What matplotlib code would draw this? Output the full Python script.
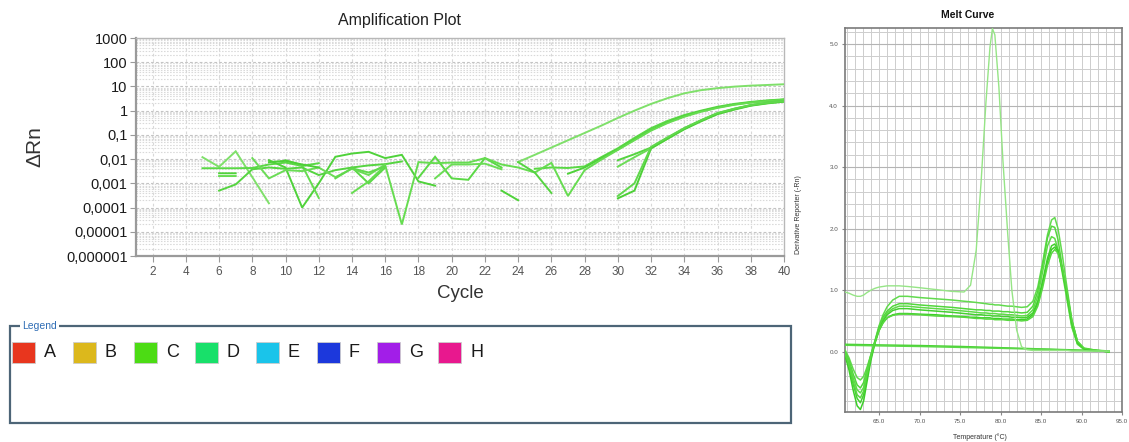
import numpy as np
import matplotlib
matplotlib.use("Agg")
import matplotlib.pyplot as plt
from matplotlib.patches import Rectangle
from matplotlib.ticker import FixedLocator, NullFormatter, NullLocator

plt.rcParams['font.family'] = ['Liberation Sans', 'DejaVu Sans']
plt.rcParams['lines.scale_dashes'] = False

W, H = 1129, 442
n = np.nan

# ---------------- amplification data (delta Rn per cycle, cycles 5..40) ----------------
cycles = list(range(5, 41))

well_1 = [.012, .0048, .021, .0018, .00015, n, n, n, n, n, n, n, n, n, n, n, n, n, n,
          .0076, .015, .03, .06, .12, .24, .5, 1.0, 1.9, 3.3, 5.2, 7.0, 8.5, 9.8, 10.8, 11.5, 12.3]
well_2 = [.0042, .0042, .0042, .0043, .006, .0072, .0052, .0068, n, .0045, .001, .0045, n,
          .0017, .0125, .0016, .0014, .011, .0045, n, .004, .0045, .0043, .005,
          .012, .028, .075, .19, .38, .66, 1.0, 1.45, 1.9, 2.3, 2.65, 2.95]
well_3 = [n, .0026, .0026, n, .009, .0045, .0001, .001, .0125, .017, .02, .011, .015, .0012, .0008,
          n, n, n, .0005, .0002, n, n,
          .0025, .0045, .011, .025, .065, .16, .33, .6, .95, 1.35, 1.8, 2.2, 2.55, 2.85]
well_4 = [n, .002, .002, n, n, .009, .0055, .00025, n, .0004, .0012, .0055, .00002, .0075, .0068,
          .0072, .0072, .011, .006, .0045, .0028, .007, .0003, .0035,
          .0095, .024, .06, .15, .31, .56, .9, 1.3, 1.75, 2.15, 2.5, 2.8]
well_5 = [n, .0005, .0009, .0038, .0045, .004, .0045, .0022, .0035, .0045, .0055, .0062, .008,
          n, n, n, n, n, n, .0075, .0028, .0004, n, n, n,
          .009, .016, .03, .075, .19, .4, .78, 1.2, 1.7, 2.15, 2.55]
well_6 = [n, n, n, .011, .0016, .0035, .0032, .0045, .0018, .004, .0022, .006, n, n,
          .0016, .006, .006, .0065, .0038, n, n, n, n, n, n,
          .0049, .012, .028, .07, .18, .38, .75, 1.15, 1.65, 2.05, 2.4]
well_7 = [n, n, n, n, .0075, .0085, .006, .0045, n, n, n, n, n, n, n, n, n, n, n, n, n, n, n, n, n,
          .00024, .0005, .028, .07, .17, .36, .72, 1.1, 1.6, 2.0, 2.35]
well_8 = [n, n, n, n, n, n, n, n, .0016, .0042, .0028, .005, n, n, n, n, n, n, n, n, n, n, n, n, n,
          .0003, .001, .032, .08, .19, .4, .8, 1.2, 1.7, 2.1, 2.5]

amp_wells = [well_1, well_2, well_3, well_4, well_5, well_6, well_7, well_8]
amp_colors = ['#7fe06a', '#5ad845', '#4fd23a', '#66dc50', '#55d440', '#6bdc56', '#4ccf36', '#60d84c']

cycle_ticks = list(range(2, 41, 2))
drn_ticks = [1e-6, 1e-5, 1e-4, 1e-3, 1e-2, 1e-1, 1, 10, 100, 1000]
drn_labels = ['0,000001', '0,00001', '0,0001', '0,001', '0,01', '0,1', '1', '10', '100', '1000']

# ---------------- legend ----------------
legend_labels = ['A', 'B', 'C', 'D', 'E', 'F', 'G', 'H']
legend_colors = ['#e8361e', '#dcb81c', '#4cdc14', '#18e06a', '#1ac4ea', '#1c38dc', '#a21ee8', '#e8188e']

# ---------------- melt curve data ----------------
melt_temps = [60.8, 61.3, 61.8, 62.3, 62.7, 63.1, 63.5, 64.0, 64.5, 65.0,
              65.5, 66.0, 66.7, 67.5, 68.5, 70.0, 72.0, 74.0, 75.5, 76.3,
              77.0, 77.6, 78.2, 78.7, 79.0, 79.3, 79.8, 80.3, 80.9, 81.4,
              82.0, 82.6, 83.3, 84.0, 84.6, 85.2, 85.8, 86.3, 86.7, 87.1,
              87.6, 88.2, 88.8, 89.5, 90.3, 91.5, 93.4]

melt_1 = [0.03, -0.1, -0.28, -0.42, -0.46, -0.4, -0.26, -0.05, 0.18, 0.42,
          0.6, 0.73, 0.84, 0.9, 0.9, 0.88, 0.86, 0.84, 0.82, 0.81,
          0.8, 0.79, 0.78, 0.77, 0.77, 0.76, 0.76, 0.75, 0.74, 0.74,
          0.73, 0.72, 0.73, 0.82, 1.05, 1.45, 1.9, 2.14, 2.18, 2.0,
          1.6, 1.05, 0.52, 0.16, 0.05, 0.03, 0.01]
melt_2 = [0.0, -0.14, -0.36, -0.54, -0.59, -0.5, -0.3, -0.05, 0.17, 0.4,
          0.56, 0.66, 0.74, 0.78, 0.78, 0.76, 0.74, 0.72, 0.7, 0.69,
          0.68, 0.68, 0.67, 0.67, 0.66, 0.66, 0.66, 0.65, 0.65, 0.64,
          0.64, 0.63, 0.64, 0.74, 0.98, 1.4, 1.85, 2.04, 2.02, 1.82,
          1.4, 0.9, 0.42, 0.13, 0.04, 0.02, 0.0]
melt_3 = [-0.02, -0.18, -0.42, -0.62, -0.67, -0.58, -0.34, -0.06, 0.16, 0.38,
          0.53, 0.63, 0.7, 0.74, 0.74, 0.72, 0.7, 0.68, 0.66, 0.65,
          0.64, 0.63, 0.63, 0.62, 0.62, 0.62, 0.61, 0.61, 0.6, 0.6,
          0.59, 0.58, 0.59, 0.68, 0.9, 1.3, 1.72, 1.87, 1.84, 1.66,
          1.3, 0.85, 0.4, 0.12, 0.04, 0.02, 0.0]
melt_4 = [-0.04, -0.24, -0.52, -0.76, -0.83, -0.7, -0.42, -0.1, 0.15, 0.36,
          0.5, 0.6, 0.67, 0.7, 0.7, 0.68, 0.66, 0.64, 0.62, 0.61,
          0.6, 0.6, 0.59, 0.59, 0.58, 0.58, 0.58, 0.57, 0.57, 0.56,
          0.56, 0.55, 0.56, 0.63, 0.82, 1.15, 1.52, 1.72, 1.75, 1.65,
          1.35, 0.92, 0.46, 0.14, 0.05, 0.02, 0.0]
melt_5 = [-0.06, -0.3, -0.62, -0.88, -0.94, -0.8, -0.5, -0.14, 0.14, 0.34,
          0.47, 0.55, 0.6, 0.62, 0.62, 0.61, 0.6, 0.58, 0.57, 0.56,
          0.56, 0.55, 0.55, 0.55, 0.54, 0.54, 0.54, 0.53, 0.53, 0.53,
          0.52, 0.52, 0.53, 0.6, 0.78, 1.1, 1.46, 1.66, 1.7, 1.62,
          1.36, 0.95, 0.5, 0.16, 0.05, 0.02, 0.0]
melt_6 = [-0.03, -0.22, -0.48, -0.7, -0.75, -0.64, -0.38, -0.08, 0.15, 0.35,
          0.47, 0.55, 0.59, 0.61, 0.61, 0.6, 0.58, 0.57, 0.56, 0.55,
          0.54, 0.54, 0.53, 0.53, 0.53, 0.52, 0.52, 0.52, 0.51, 0.51,
          0.51, 0.5, 0.51, 0.57, 0.74, 1.04, 1.4, 1.6, 1.66, 1.6,
          1.38, 0.98, 0.52, 0.17, 0.06, 0.03, 0.0]
melt_early = [0.97, 0.95, 0.92, 0.9, 0.9, 0.92, 0.96, 1.0, 1.03, 1.05,
              1.06, 1.07, 1.07, 1.07, 1.06, 1.04, 1.01, 0.98, 0.97, 1.08,
              1.65, 2.75, 4.05, 4.95, 5.25, 5.15, 4.3, 3.1, 1.9, 1.0,
              0.35, 0.08, 0.03, 0.02, 0.02, 0.02, 0.02, 0.02, 0.02, 0.02,
              0.02, 0.02, 0.01, 0.01, 0.01, 0.01, 0.01]

flat_temps = [60.8, 65.0, 70.0, 75.0, 80.0, 85.0, 90.0, 93.4]
melt_flat_1 = [0.12, 0.11, 0.1, 0.085, 0.065, 0.045, 0.025, 0.01]
melt_flat_2 = [0.105, 0.095, 0.085, 0.07, 0.055, 0.04, 0.02, 0.005]

melt_main = [melt_1, melt_2, melt_3, melt_4, melt_5, melt_6]
melt_main_colors = ['#62da4e', '#52d63c', '#5ddc46', '#44d030', '#3ccf28', '#58d840']

melt_xticks = [65, 70, 75, 80, 85, 90, 95]
melt_yticks = [0, 1, 2, 3, 4, 5]


def fig_rect(left, top, right, bottom):
    return [left / W, 1 - bottom / H, (right - left) / W, (bottom - top) / H]


fig = plt.figure(figsize=(W / 100, H / 100), dpi=100)
fig.patch.set_facecolor('white')

# ======================= amplification plot =======================
ax = fig.add_axes(fig_rect(136, 38, 784, 256))
ax.set_yscale('log')
ax.set_xlim(1, 40)
ax.set_ylim(1e-6, 1e3)

# grid
ax.yaxis.set_major_locator(FixedLocator(drn_ticks))
minor_y = [m * 10.0 ** e for e in range(-6, 3) for m in range(2, 10)]
ax.yaxis.set_minor_locator(FixedLocator(minor_y))
ax.yaxis.set_minor_formatter(NullFormatter())
ax.set_yticklabels(drn_labels)
ax.set_xticks(cycle_ticks)
ax.xaxis.set_minor_locator(NullLocator())

for v in minor_y:
    ax.axhline(v, color='#d9d9d9', lw=0.8, ls=(0, (1.1, 1.1)), zorder=0)
for v in drn_ticks[1:-1]:
    ax.axhline(v, color='#c4c4c4', lw=0.8, ls=(0, (2.0, 1.5)), zorder=0)
for c in cycle_ticks[:-1]:
    ax.axvline(c, color='#d8d8d8', lw=0.8, ls=(0, (2.0, 2.0)), zorder=0)

for vals, col in zip(amp_wells, amp_colors):
    ax.plot(cycles, vals, color=col, lw=1.4, solid_joinstyle='miter', zorder=3)

for side in ['left', 'bottom']:
    ax.spines[side].set_color('#9a9a9a')
    ax.spines[side].set_linewidth(1.6)
for side in ['top', 'right']:
    ax.spines[side].set_color('#b8b8b8')
    ax.spines[side].set_linewidth(1.0)

ax.tick_params(axis='y', which='major', length=4, color='#9a9a9a', labelsize=10.5,
               labelcolor='#1a1a1a', pad=2)
ax.tick_params(axis='y', which='minor', length=0)
ax.tick_params(axis='x', which='major', length=4, color='#9a9a9a', labelsize=8.5,
               labelcolor='#555555', pad=3)

fig.text(399 / W, 1 - 20 / H, 'Amplification Plot', ha='center', va='center',
         fontsize=11.5, color='#222222')
fig.text(35 / W, 1 - 147 / H, '\u0394Rn', ha='center', va='center', rotation=90,
         fontsize=15, color='#333333')
fig.text(460 / W, 1 - 293 / H, 'Cycle', ha='center', va='center',
         fontsize=13.5, color='#333333')

# ======================= legend panel =======================
fig.add_artist(Rectangle((10 / W, 1 - 423 / H), (791 - 10) / W, (423 - 326) / H,
                         transform=fig.transFigure, fill=False,
                         edgecolor='#4d6577', lw=1.6))
fig.text(22 / W, 1 - 326 / H, 'Legend', ha='left', va='center', fontsize=7.5,
         color='#2f6db5', bbox=dict(facecolor='white', edgecolor='none', pad=1.5))
for i, (lab, col) in enumerate(zip(legend_labels, legend_colors)):
    x0 = 12 + i * 60.9
    fig.add_artist(Rectangle((x0 / W, 1 - 363 / H), 23 / W, 21 / H,
                             transform=fig.transFigure, facecolor=col,
                             edgecolor='#cccccc', lw=0.6))
    fig.text((x0 + 32) / W, 1 - 352.5 / H, lab, ha='left', va='center',
             fontsize=13, color='#1a1a1a')

# ======================= melt curve =======================
mx = fig.add_axes(fig_rect(845, 28, 1122, 412))
mx.set_xlim(60.8, 95.0)
mx.set_ylim(-0.98, 5.26)

for t in range(61, 95):
    mx.axvline(t, color='#cdcdcd', lw=0.7, zorder=0)
for k in range(-4, 27):
    mx.axhline(k * 0.2, color='#cdcdcd', lw=0.7, zorder=0)
for k in range(0, 6):
    mx.axhline(k, color='#b4b4b4', lw=0.8, zorder=0)

mx.plot(flat_temps, melt_flat_1, color='#4ad234', lw=1.1, zorder=3)
mx.plot(flat_temps, melt_flat_2, color='#5ad846', lw=1.1, zorder=3)
for vals, col in zip(melt_main, melt_main_colors):
    mx.plot(melt_temps, vals, color=col, lw=1.1, zorder=3)
mx.plot(melt_temps, melt_early, color='#96e586', lw=1.0, zorder=4)

mx.set_xticks(melt_xticks)
mx.set_xticklabels([f'{v:.1f}' for v in melt_xticks])
mx.set_yticks(melt_yticks)
mx.set_yticklabels([f'{v:.1f}' for v in melt_yticks])
mx.tick_params(axis='both', length=2, color='#888888', labelsize=4.5,
               labelcolor='#555555', pad=3)
for side in mx.spines.values():
    side.set_color('#7a7a7a')
    side.set_linewidth(1.2)

fig.text(968 / W, 1 - 15 / H, 'Melt Curve', ha='center', va='center',
         fontsize=7.5, fontweight='bold', color='#111111')
fig.text(980 / W, 1 - 437 / H, 'Temperature (\u00b0C)', ha='center', va='center',
         fontsize=5, color='#333333')
fig.text(798 / W, 1 - 215 / H, 'Derivative Reporter (-Rn)', ha='center', va='center',
         rotation=90, fontsize=5, color='#333333')

fig.savefig('out.png', dpi=100, facecolor='white')
